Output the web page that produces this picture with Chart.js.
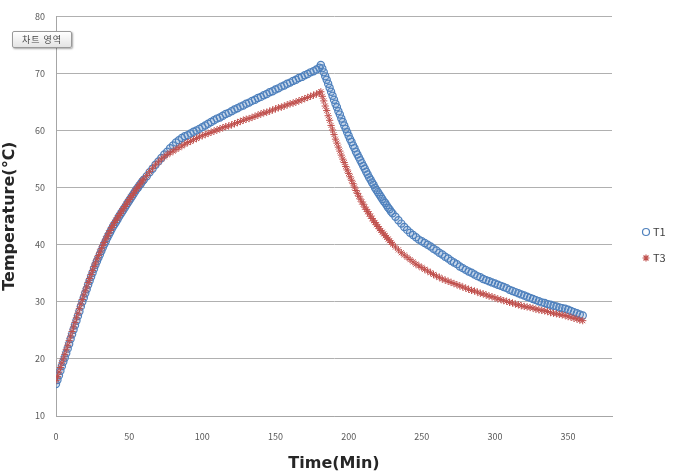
<!DOCTYPE html>
<html>
<head>
<meta charset="utf-8">
<script src="https://cdn.jsdelivr.net/npm/chart.js"></script>
<style>
  body { margin: 0; background: #fff; }
  #wrap { position: relative; width: 674px; height: 476px; }
  #tip {
    position: absolute; left: 12px; top: 31px; width: 58px; height: 15px;
    border: 1px solid #9a9a9a; border-radius: 2px;
    background: linear-gradient(#ffffff, #e4e4e4);
    box-shadow: 1px 1px 2px rgba(0,0,0,0.35);
    font: 9px "Noto Sans CJK KR", sans-serif; color: #444;
    text-align: center; line-height: 15px; letter-spacing: 1px;
  }
</style>
</head>
<body>
<div id="wrap">
  <canvas id="tempChart" width="674" height="476"></canvas>
  <div id="tip">차트 영역</div>
</div>
<script>
// 시간 (분)
var times = [
  0, 1, 2, 3, 4, 5, 6, 7, 8, 9, 10, 11, 12, 13, 14, 15, 16, 17, 18, 19, 20,
  21, 22, 23, 24, 25, 26, 27, 28, 29, 30, 31, 32, 33, 34, 35, 36, 37, 38, 39, 40,
  41, 42, 43, 44, 45, 46, 47, 48, 49, 50, 51, 52, 53, 54, 55, 56, 57, 58, 59, 60,
  62, 64, 66, 68, 70, 72, 74, 76, 78, 80,
  82, 84, 86, 88, 90, 92, 94, 96, 98, 100, 102, 104, 106, 108, 110, 112, 114, 116, 118, 120,
  122, 124, 126, 128, 130, 132, 134, 136, 138, 140, 142, 144, 146, 148, 150, 152, 154, 156, 158, 160,
  162, 164, 166, 168, 170, 172, 174, 176, 178, 180,
  181,
  182, 183, 184, 185, 186, 187, 188, 189, 190, 191, 192, 193, 194, 195, 196, 197, 198, 199, 200,
  201, 202, 203, 204, 205, 206, 207, 208, 209, 210, 211, 212, 213, 214, 215, 216, 217, 218, 219, 220,
  221, 222, 223, 224, 225, 226, 227, 228, 229,
  230, 232, 234, 236, 238, 240,
  242, 244, 246, 248, 250, 252, 254, 256, 258, 260, 262, 264, 266, 268, 270, 272, 274, 276, 278, 280,
  282, 284, 286, 288, 290, 292, 294, 296, 298, 300, 302, 304, 306, 308, 310, 312, 314, 316, 318, 320,
  322, 324, 326, 328, 330, 332, 334, 336, 338, 340, 342, 344, 346, 348, 350, 352, 354, 356, 358, 360
];

var t1 = [
  15.6, 16.3, 17.1, 17.9, 18.7, 19.5, 20.2, 21.0, 21.8, 22.6, 23.5, 24.3, 25.1, 25.9, 26.7, 27.5, 28.3, 29.2, 30.0, 30.7, 31.5,
  32.2, 33.0, 33.7, 34.4, 35.1, 35.8, 36.5, 37.1, 37.7, 38.3, 38.9, 39.5, 40.1, 40.6, 41.2, 41.7, 42.2, 42.7, 43.2, 43.6,
  44.0, 44.4, 44.9, 45.3, 45.7, 46.1, 46.5, 46.9, 47.3, 47.7, 48.1, 48.5, 48.9, 49.3, 49.7, 50.0, 50.4, 50.7, 51.1, 51.4,
  52.0, 52.7, 53.3, 54.0, 54.6, 55.2, 55.8, 56.3, 56.9, 57.4,
  57.9, 58.3, 58.7, 59.0, 59.2, 59.5, 59.8, 60.0, 60.3, 60.6, 60.9, 61.2, 61.5, 61.8, 62.1, 62.3, 62.6, 62.9, 63.1, 63.4,
  63.7, 63.9, 64.2, 64.4, 64.7, 64.9, 65.2, 65.4, 65.7, 65.9, 66.2, 66.4, 66.7, 66.9, 67.2, 67.4, 67.7, 67.9, 68.2, 68.4,
  68.7, 68.9, 69.2, 69.4, 69.7, 69.9, 70.2, 70.4, 70.7, 71.0,
  71.5,
  70.9, 70.2, 69.5, 68.9, 68.2, 67.5, 66.8, 66.1, 65.4, 64.7, 64.1, 63.4, 62.8, 62.1, 61.5, 60.9, 60.3, 59.7, 59.1,
  58.5, 58.0, 57.4, 56.9, 56.3, 55.8, 55.3, 54.8, 54.3, 53.8, 53.3, 52.8, 52.3, 51.8, 51.4, 50.9, 50.5, 50.0, 49.6, 49.2,
  48.8, 48.4, 48.0, 47.6, 47.3, 46.9, 46.5, 46.2, 45.8,
  45.5, 44.9, 44.3, 43.7, 43.1, 42.6,
  42.1, 41.7, 41.3, 40.9, 40.6, 40.3, 40.0, 39.7, 39.3, 39.0, 38.6, 38.3, 37.9, 37.6, 37.2, 36.9, 36.6, 36.2, 35.9, 35.6,
  35.3, 35.1, 34.8, 34.5, 34.3, 34.0, 33.8, 33.6, 33.4, 33.2, 33.0, 32.8, 32.6, 32.4, 32.1, 31.9, 31.7, 31.5, 31.3, 31.1,
  30.9, 30.7, 30.5, 30.3, 30.1, 29.9, 29.8, 29.6, 29.5, 29.3, 29.2, 29.0, 28.9, 28.8, 28.6, 28.4, 28.2, 28.0, 27.8, 27.6
];

var t3 = [
  16.2, 16.9, 17.7, 18.5, 19.3, 20.0, 20.8, 21.6, 22.4, 23.2, 24.0, 24.8, 25.6, 26.4, 27.2, 28.0, 28.8, 29.6, 30.4, 31.2, 31.9,
  32.6, 33.4, 34.1, 34.8, 35.5, 36.2, 36.8, 37.5, 38.1, 38.7, 39.3, 39.9, 40.4, 41.0, 41.5, 42.0, 42.5, 43.0, 43.4, 43.9,
  44.3, 44.7, 45.1, 45.5, 45.9, 46.3, 46.7, 47.1, 47.5, 47.9, 48.3, 48.6, 49.0, 49.4, 49.8, 50.1, 50.5, 50.8, 51.2, 51.5,
  52.1, 52.8, 53.4, 54.0, 54.5, 55.0, 55.4, 55.8, 56.1, 56.4,
  56.7, 57.0, 57.3, 57.6, 57.9, 58.1, 58.4, 58.6, 58.9, 59.1, 59.3, 59.5, 59.7, 59.9, 60.1, 60.3, 60.5, 60.7, 60.8, 61.0,
  61.2, 61.4, 61.6, 61.8, 62.0, 62.1, 62.3, 62.5, 62.7, 62.9, 63.1, 63.2, 63.4, 63.6, 63.8, 64.0, 64.1, 64.3, 64.5, 64.7,
  64.8, 65.0, 65.2, 65.4, 65.6, 65.8, 66.0, 66.2, 66.4, 66.6,
  66.8,
  66.0, 65.2, 64.3, 63.5, 62.6, 61.8, 60.9, 60.1, 59.3, 58.5, 57.8, 57.1, 56.4, 55.7, 55.0, 54.4, 53.7, 53.1, 52.5,
  51.9, 51.3, 50.7, 50.1, 49.5, 49.0, 48.5, 48.0, 47.5, 47.1, 46.6, 46.2, 45.8, 45.4, 45.0, 44.6, 44.2, 43.9, 43.5, 43.2,
  42.8, 42.5, 42.2, 41.9, 41.6, 41.3, 41.0, 40.7, 40.4,
  40.1, 39.6, 39.1, 38.6, 38.2, 37.8,
  37.4, 37.0, 36.6, 36.3, 36.0, 35.7, 35.4, 35.1, 34.8, 34.5, 34.3, 34.0, 33.8, 33.6, 33.4, 33.2, 33.0, 32.8, 32.6, 32.4,
  32.2, 32.0, 31.9, 31.7, 31.5, 31.4, 31.2, 31.0, 30.9, 30.7, 30.5, 30.4, 30.2, 30.1, 29.9, 29.8, 29.6, 29.5, 29.3, 29.2,
  29.1, 29.0, 28.9, 28.7, 28.6, 28.5, 28.4, 28.3, 28.1, 28.0, 27.9, 27.8, 27.7, 27.6, 27.4, 27.3, 27.1, 27.0, 26.8, 26.7
];

var xTicks = [0, 50, 100, 150, 200, 250, 300, 350];
var yTicks = [10, 20, 30, 40, 50, 60, 70, 80];

var BLUE = '#4F81BD';
var RED = '#C0504D';

function pts(vals) {
  return times.map(function (t, i) { return { x: t, y: vals[i] }; });
}

// 오른쪽 범례
var sideLegend = {
  id: 'sideLegend',
  afterDraw: function (chart) {
    var ctx = chart.ctx;
    var items = [
      { text: 'T1', style: 'circle', color: BLUE, y: 232 },
      { text: 'T3', style: 'star', color: RED, y: 258 }
    ];
    ctx.save();
    items.forEach(function (it) {
      ctx.strokeStyle = it.color;
      ctx.fillStyle = 'rgba(255,255,255,0)';
      ctx.lineWidth = 1.2;
      Chart.helpers.drawPoint(ctx, { pointStyle: it.style, radius: 3.5, rotation: 0, borderWidth: 1.2 }, 646, it.y);
      ctx.fillStyle = '#404040';
      ctx.font = '11px "Noto Sans CJK KR", sans-serif';
      ctx.textBaseline = 'middle';
      ctx.fillText(it.text, 653, it.y);
    });
    ctx.restore();
  }
};

var tempChart = new Chart(document.getElementById('tempChart').getContext('2d'), {
  type: 'scatter',
  data: {
    datasets: [{
      label: 'T1',
      data: pts(t1),
      pointStyle: 'circle',
      pointRadius: 3.6,
      borderWidth: 1.2,
      borderColor: BLUE,
      backgroundColor: 'rgba(79,129,189,0.18)',
      order: 1
    }, {
      label: 'T3',
      data: pts(t3),
      pointStyle: 'star',
      pointRadius: 3.6,
      borderWidth: 1,
      borderColor: RED,
      backgroundColor: RED,
      order: 0
    }]
  },
  options: {
    responsive: false,
    animation: false,
    devicePixelRatio: 1,
    layout: { padding: { top: 12, right: 62, left: 0, bottom: 0 } },
    plugins: {
      legend: { display: false },
      tooltip: { enabled: false }
    },
    scales: {
      x: {
        type: 'linear',
        min: 0,
        max: 380,
        afterBuildTicks: function (scale) {
          scale.ticks = xTicks.map(function (v) { return { value: v }; });
        },
        afterFit: function (scale) { scale.height = 60; },
        grid: { display: false, drawTicks: false },
        border: { display: true, color: '#a6a6a6', width: 1 },
        ticks: { padding: 15, color: '#595959', font: { family: 'Noto Sans CJK KR', size: 9 } },
        title: {
          display: true,
          text: 'Time(Min)',
          color: '#262626',
          font: { family: 'DejaVu Sans', size: 16, weight: 'bold' },
          padding: { top: 0, bottom: 3 }
        }
      },
      y: {
        min: 10,
        max: 80,
        afterBuildTicks: function (scale) {
          scale.ticks = yTicks.map(function (v) { return { value: v }; });
        },
        afterFit: function (scale) { scale.width = 56; },
        grid: { color: '#b0b0b0', lineWidth: 1, drawTicks: false },
        border: { display: true, color: '#a6a6a6', width: 1 },
        ticks: { padding: 11, color: '#595959', font: { family: 'Noto Sans CJK KR', size: 9 } },
        title: {
          display: true,
          text: 'Temperature(℃)',
          color: '#262626',
          font: { family: 'DejaVu Sans', size: 16, weight: 'bold' },
          padding: { top: 0, bottom: 2 }
        }
      }
    }
  },
  plugins: [sideLegend]
});
</script>
</body>
</html>
